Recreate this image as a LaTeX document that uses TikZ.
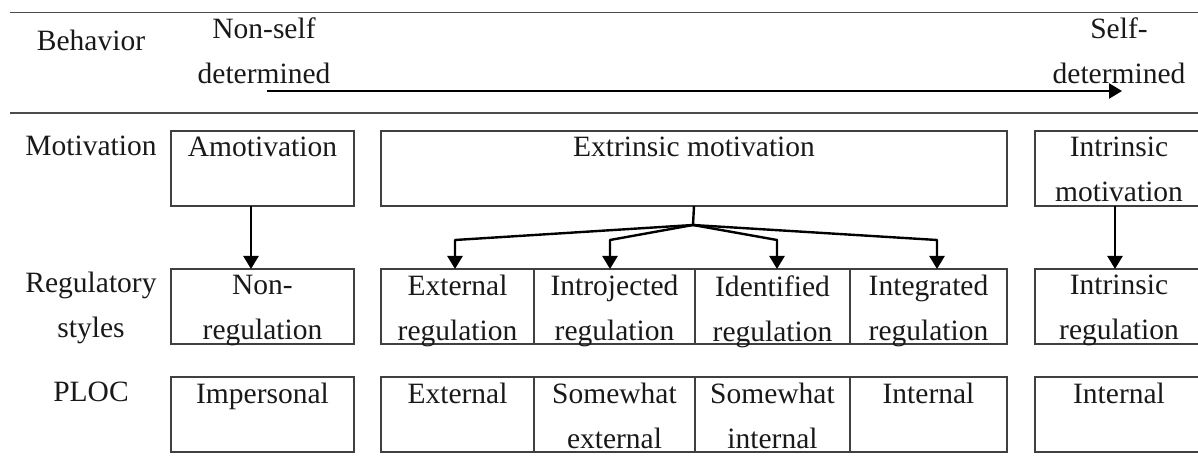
\documentclass[tikz,border=0pt]{standalone}
\usepackage{fontspec}
\setmainfont{Liberation Serif}
\usetikzlibrary{positioning,arrows.meta}

\tikzset{
		cell/.style={draw=black!75, line width=0.75pt, inner sep=0pt, outer sep=0pt, anchor=north west, minimum height=37.5pt},
		txt/.style={font=\fontsize{14.75}{22.5}\selectfont, align=center, inner sep=0pt, text=black!90},
		arr/.style={-{Triangle[width=7.5pt,length=6.5pt]}, line width=1.2pt, line join=round},
		rule/.style={draw=black!70, line width=0.8pt}
	}

\begin{document}
\begin{tikzpicture}[x=0.5pt, y=-0.5pt]
				\useasboundingbox (0,0) rectangle (1198,464);
				% behavior row
				\draw[rule] (10,12.7) -- (1198,12.7);
				\draw[rule] (10,113) -- (1198,113);
				\node[txt, anchor=north] (behav) at (91,30) {Behavior};
				\node[txt, anchor=north] (nonself) at (264,17) {Non-self\\determined};
				\node[txt, anchor=north] (self) at (1119,17) {Self-\\determined};
				\coordinate (arrS) at (267,91);
				\coordinate (arrE) at (1122,91);
				\draw[arr] (arrS) -- (arrE);
				% row labels
				\node[txt, anchor=north] (motiv) at (91,136) {Motivation};
				\node[txt, anchor=north] (regsty) at (91,272) {Regulatory\\styles};
				\node[txt, anchor=north] (ploc) at (91,382) {PLOC};
				% motivation
				\node[cell, minimum width=91.5pt] (amo) at (171,131) {};
				\node[cell, minimum width=313pt] (extr) at (381,131) {};
				\node[cell, minimum width=84pt] (intr) at (1035,131) {};
				\node[txt, below=3pt of amo.north] (amotxt) {Amotivation};
				\node[txt, below=3pt of extr.north] (extrtxt) {Extrinsic motivation};
				\node[txt, below=3pt of intr.north] (intrtxt) {Intrinsic\\motivation};
				% regulatory styles
				\node[cell, minimum width=91.5pt] (nonreg) at (171,269) {};
				\node[cell, minimum width=76.5pt] (extreg) at (381,269) {};
				\node[cell, minimum width=80.5pt, right=0pt of extreg] (introreg) {};
				\node[cell, minimum width=77.5pt, right=0pt of introreg] (identreg) {};
				\node[cell, minimum width=78.5pt, right=0pt of identreg] (integreg) {};
				\node[cell, minimum width=84pt] (intrreg) at (1035,269) {};
				\node[txt, below=3pt of nonreg.north] (nonregtxt) {Non-\\regulation};
				\node[txt, below=3pt of extreg.north] (extregtxt) {External\\regulation};
				\node[txt, below=3pt of introreg.north] (introregtxt) {Introjected\\regulation};
				\node[txt, below=3pt of identreg.north] (identregtxt) {Identified\\regulation};
				\node[txt, below=3pt of integreg.north] (integregtxt) {Integrated\\regulation};
				\node[txt, below=3pt of intrreg.north] (intrregtxt) {Intrinsic\\regulation};
				% PLOC
				\node[cell, minimum width=91.5pt] (impers) at (171,377) {};
				\node[cell, minimum width=76.5pt] (extloc) at (381,377) {};
				\node[cell, minimum width=80.5pt, right=0pt of extloc] (swext) {};
				\node[cell, minimum width=77.5pt, right=0pt of swext] (swint) {};
				\node[cell, minimum width=78.5pt, right=0pt of swint] (intloc) {};
				\node[cell, minimum width=84pt] (intloc2) at (1035,377) {};
				\node[txt, below=3pt of impers.north] (imperstxt) {Impersonal};
				\node[txt, below=3pt of extloc.north] (extloctxt) {External};
				\node[txt, below=3pt of swext.north] (swexttxt) {Somewhat\\external};
				\node[txt, below=3pt of swint.north] (swinttxt) {Somewhat\\internal};
				\node[txt, below=3pt of intloc.north] (intloctxt) {Internal};
				\node[txt, below=3pt of intloc2.north] (intloc2txt) {Internal};
				% arrows
				\draw[arr] ([xshift=-5.75pt]amo.south) -- ([xshift=-5.75pt]nonreg.north);
				\draw[arr] ([xshift=-2pt]intr.south) -- ([xshift=-2pt]intrreg.north);
				\coordinate (fork) at (693,225);
				\draw[line width=1.2pt] (extr.south) -- (fork);
				\foreach \c/\x in {extreg/455, introreg/610, identreg/777, integreg/937}
					\draw[arr] (fork) -- (\x,240) -- (\c.north -| \x,240);
			\end{tikzpicture}
\end{document}
